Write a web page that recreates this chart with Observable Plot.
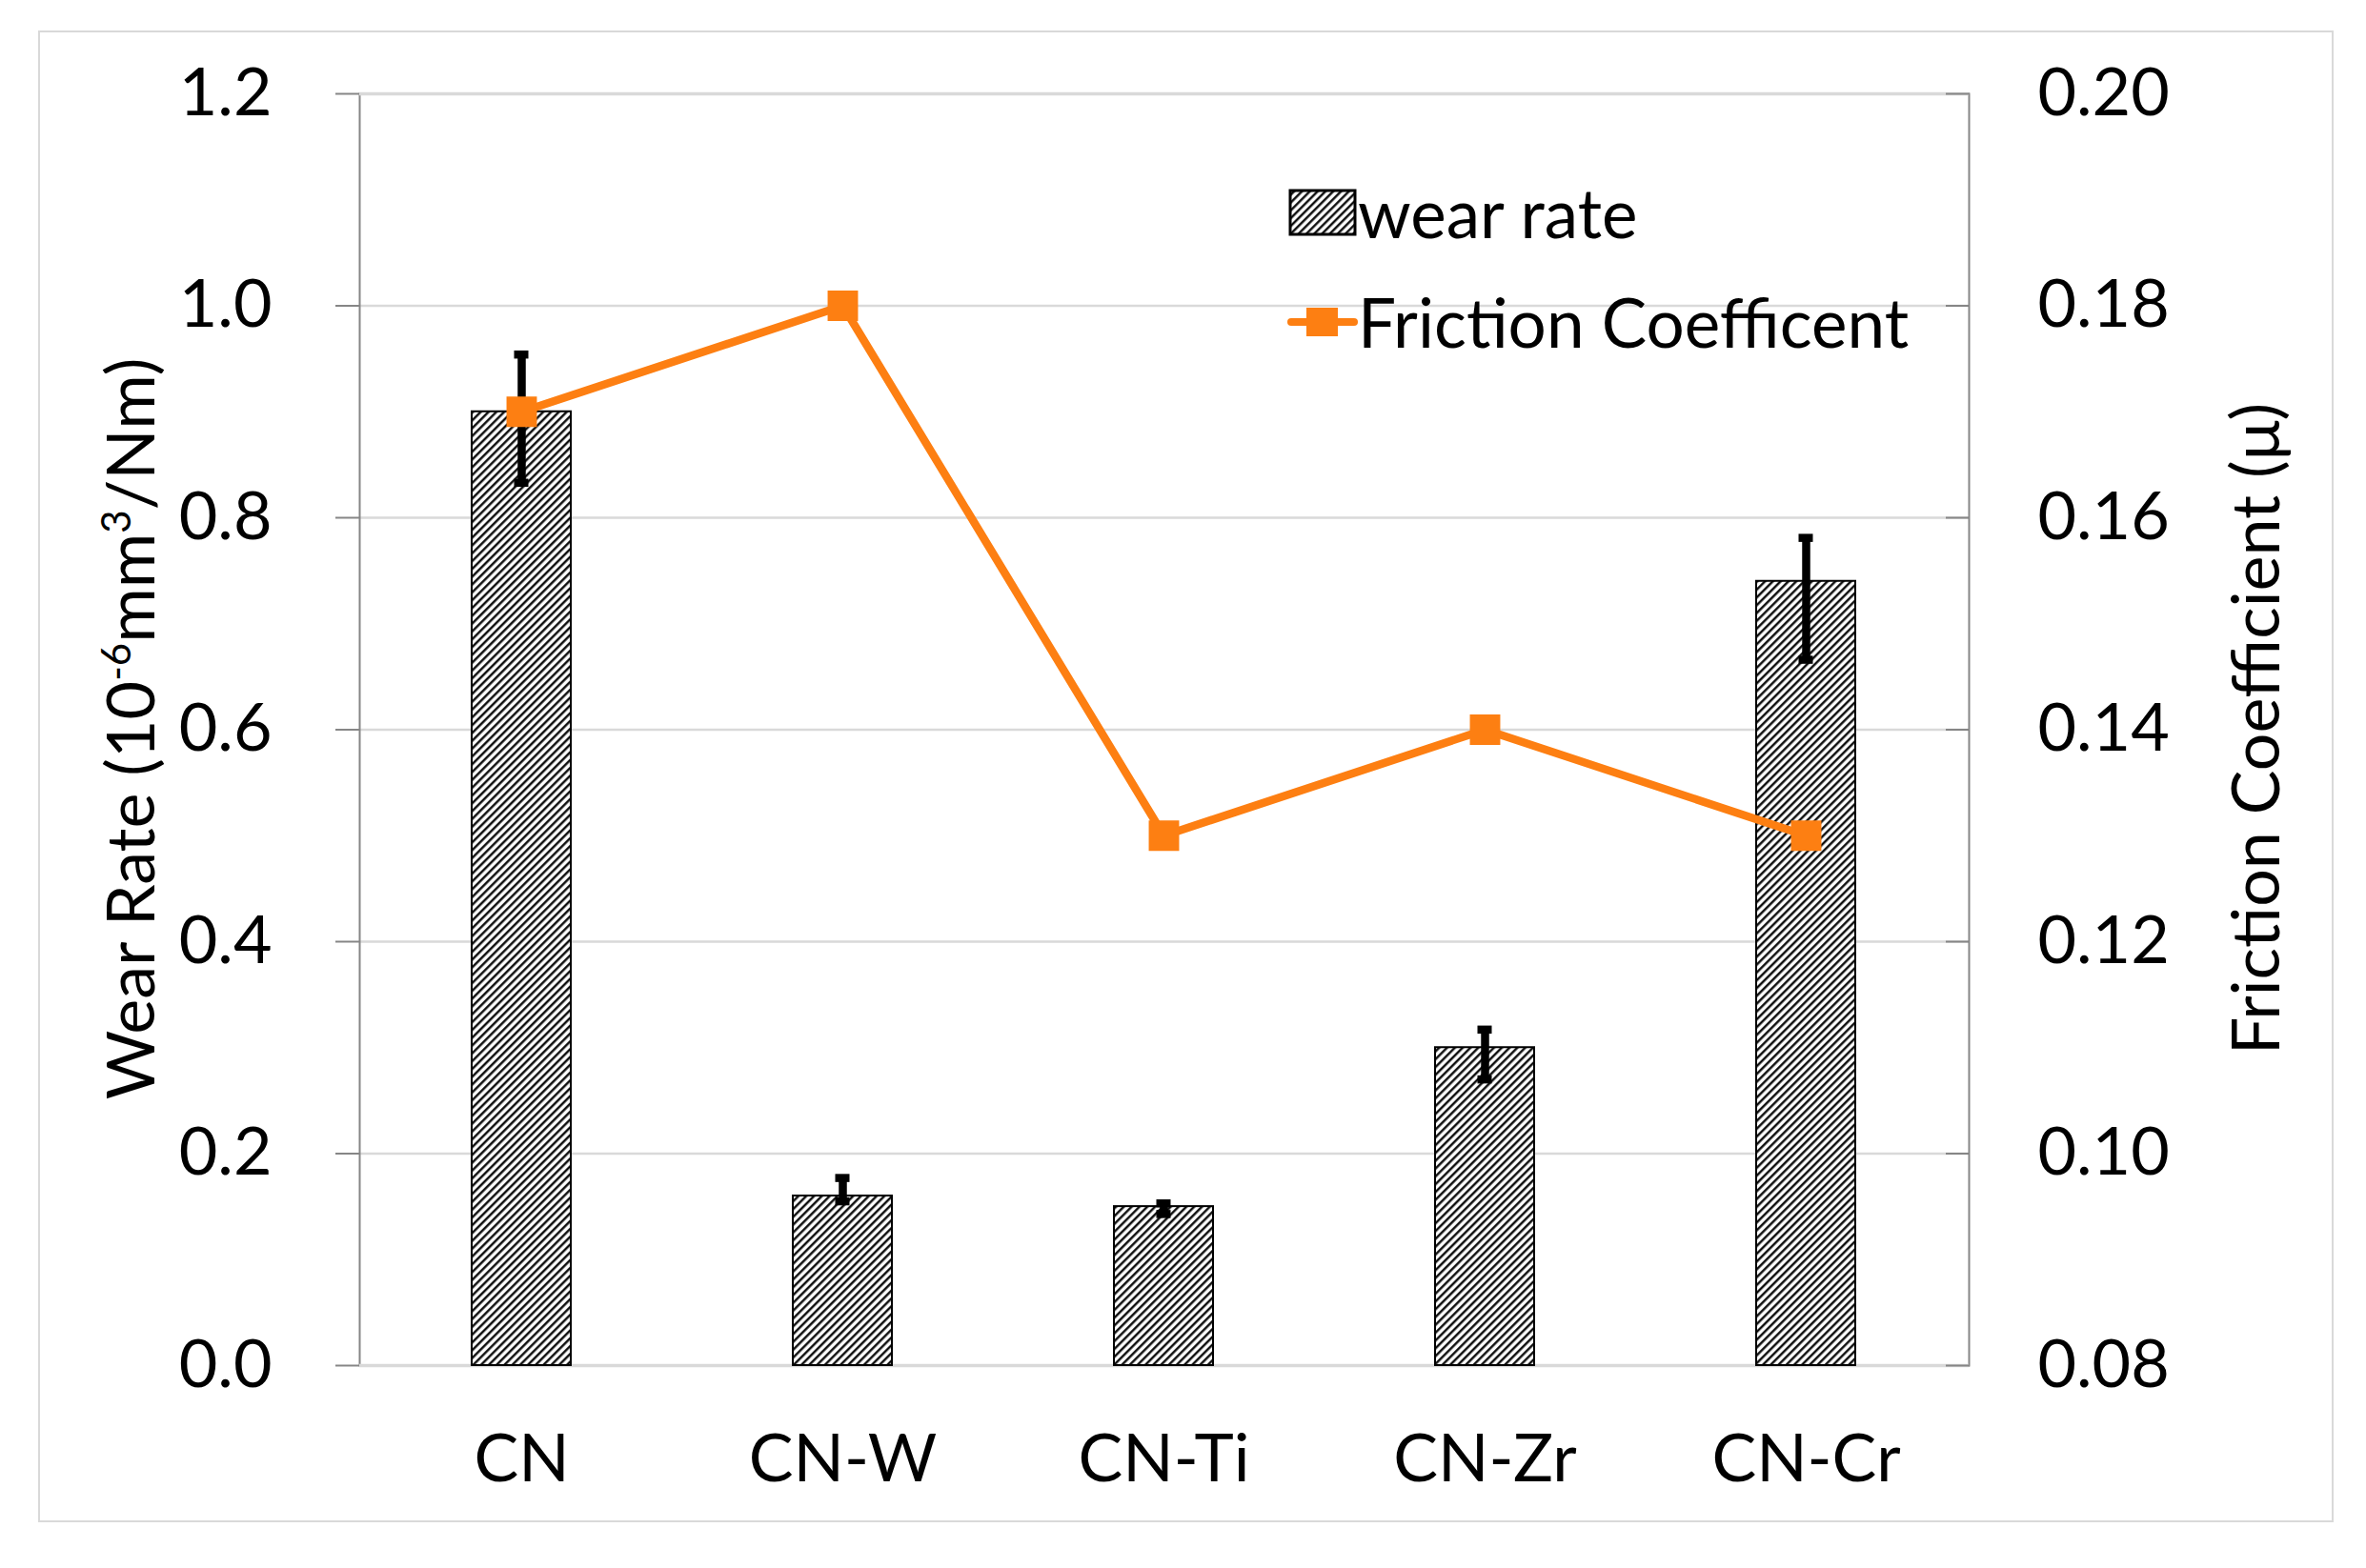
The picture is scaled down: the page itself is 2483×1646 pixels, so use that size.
<!DOCTYPE html>
<html><head><meta charset="utf-8">
<script src="https://cdn.jsdelivr.net/npm/d3@7"></script>
<script src="https://cdn.jsdelivr.net/npm/@observablehq/plot@0.6"></script>
<style>
body{margin:0;background:#fff;font-family:Lato,sans-serif;}
#wrap{position:relative;width:2483px;height:1646px;overflow:hidden;}
#border{position:absolute;left:40px;top:32px;width:2405px;height:1562px;border:2px solid #d9d9d9;}
#chart{position:absolute;left:0;top:0;}
.axlab{position:absolute;font-size:70px;white-space:nowrap;transform:translate(-50%,-50%) rotate(-90deg);color:#000;line-height:1;}
.axlab sup{font-size:0.6em;vertical-align:0.6em;line-height:0;}
#legend{position:absolute;left:1351px;top:180px;font-size:71px;color:#000;}
.lrow{position:absolute;left:0;white-space:nowrap;display:flex;align-items:center;}
</style></head><body>
<div id="wrap">
<div id="border"></div>
<div id="chart"></div>
<div class="axlab" style="left:135px;top:765px;">Wear Rate (10<sup>-6</sup>mm<sup>3</sup>/Nm)</div>
<div class="axlab" style="left:2365px;top:765px;">Friction Coefficient (μ)</div>
<div id="legend"></div>
</div>
<script>
const categories = ["CN", "CN-W", "CN-Ti", "CN-Zr", "CN-Cr"];
const wearRate = [0.90, 0.16, 0.15, 0.30, 0.74];
const wearLow = [0.833, 0.155, 0.143, 0.270, 0.666];
const wearHigh = [0.954, 0.177, 0.153, 0.317, 0.781];
const friction = [0.17, 0.18, 0.13, 0.14, 0.13];
const leftTicks = [0, 0.2, 0.4, 0.6, 0.8, 1.0, 1.2];
const rightTicks = [0.08, 0.10, 0.12, 0.14, 0.16, 0.18, 0.20];
const seriesNames = ["wear rate", "Friction Coefficent"];

const fMin = 0.08, fMax = 0.20, yMax = 1.2;
const toLeft = f => (f - fMin) / (fMax - fMin) * yMax;
const toRight = y => fMin + y / yMax * (fMax - fMin);

const data = categories.map((c, i) => ({cat: c, wear: wearRate[i], lo: wearLow[i], hi: wearHigh[i], fr: toLeft(friction[i])}));
const orange = "#fd7f12";
const capInset = 44.5;

const plot = Plot.plot({
  width: 2483, height: 1646,
  marginLeft: 377, marginRight: 417, marginTop: 98, marginBottom: 213,
  style: {fontFamily: "Lato, sans-serif", fontSize: "70px", color: "#000", background: "transparent", overflow: "visible"},
  x: {domain: categories, paddingInner: 0.69, paddingOuter: 0.345, label: null},
  y: {domain: [0, yMax], label: null},
  marks: [
    Plot.gridY(leftTicks, {stroke: "#d9d9d9", strokeOpacity: 1, strokeWidth: 2.5}),
    Plot.frame({stroke: "#868686", strokeWidth: 2}),
    Plot.ruleY([0, yMax], {stroke: "#d9d9d9", strokeWidth: 3.5}),
    Plot.barY(data, {x: "cat", y: "wear", fill: "url(#hatch)", stroke: "#000", strokeWidth: 2}),
    Plot.ruleX(data, {x: "cat", y1: "lo", y2: "hi", stroke: "#000", strokeWidth: 8.5}),
    Plot.tickY(data, {x: "cat", y: "lo", stroke: "#000", strokeWidth: 8.5, insetLeft: capInset, insetRight: capInset}),
    Plot.tickY(data, {x: "cat", y: "hi", stroke: "#000", strokeWidth: 8.5, insetLeft: capInset, insetRight: capInset}),
    Plot.line(data, {x: "cat", y: "fr", stroke: orange, strokeWidth: 8.5}),
    Plot.dot(data, {x: "cat", y: "fr", symbol: "square", r: 18, fill: orange, stroke: "none"}),
    Plot.axisY(leftTicks, {anchor: "left", tickSize: 25, tickPadding: 67, stroke: "#868686", strokeWidth: 2, tickFormat: d => d.toFixed(1), label: null}),
    Plot.axisY(rightTicks.map(toLeft), {anchor: "right", tickSize: -25, stroke: "#868686", strokeWidth: 2, tickFormat: () => "", label: null}),
    Plot.axisY(rightTicks.map(toLeft), {anchor: "right", tickSize: 0, tickPadding: 72, tickFormat: d => toRight(d).toFixed(2), label: null}),
    Plot.axisX({tickSize: 0, tickPadding: 72, label: null})
  ]
});

const pat = id => `<pattern id="${id}" patternUnits="userSpaceOnUse" width="5.8" height="5.8" patternTransform="rotate(45)"><rect width="5.8" height="5.8" fill="#fff"/><line x1="1.3" y1="0" x2="1.3" y2="5.8" stroke="#000" stroke-width="2.3"/></pattern>`;
plot.insertAdjacentHTML("afterbegin", `<defs>${pat("hatch")}</defs>`);
document.getElementById("chart").appendChild(plot);

const legend = document.getElementById("legend");
legend.innerHTML = `
<div class="lrow" style="top:0px;">
  <svg width="74" height="50" style="margin-right:0px"><defs>${pat("hatch2")}</defs><rect x="3" y="2" width="68" height="46" fill="url(#hatch2)" stroke="#000" stroke-width="3"/></svg>
  <span>${seriesNames[0]}</span></div>
<div class="lrow" style="top:115px;">
  <svg width="74" height="50" style="margin-right:0px"><line x1="4" y1="25" x2="70" y2="25" stroke="${orange}" stroke-width="8" stroke-linecap="round"/><rect x="20" y="10" width="33" height="30" fill="${orange}"/></svg>
  <span>${seriesNames[1]}</span></div>`;
</script>
</body></html>
